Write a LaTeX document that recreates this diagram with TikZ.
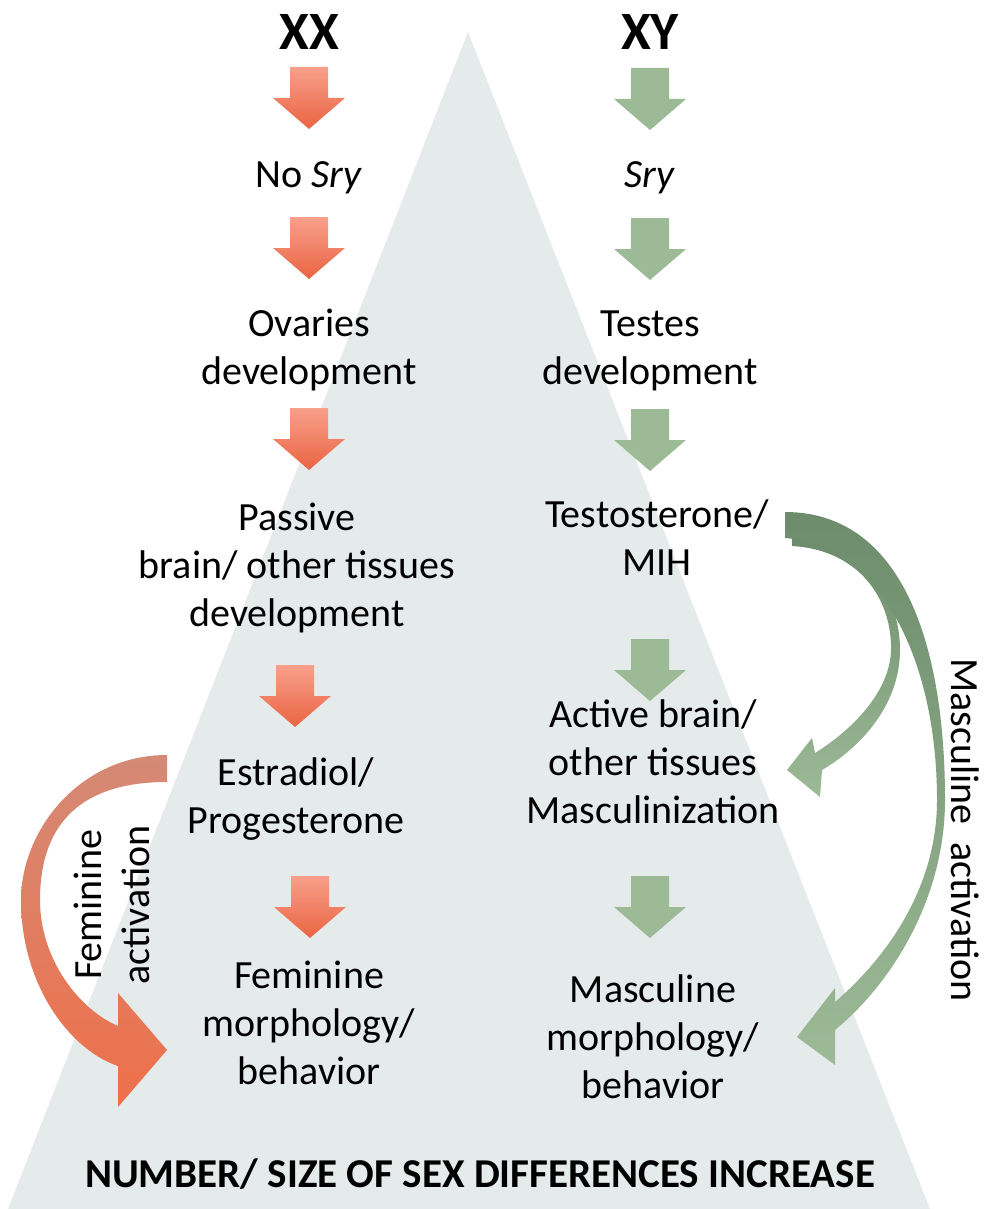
\documentclass[tikz,border=0pt]{standalone}
\usepackage{fontspec}
\setmainfont{Carlito}
\usetikzlibrary{positioning}

\definecolor{tribg}{RGB}{229,234,235}
\definecolor{redtop}{RGB}{248,160,138}
\definecolor{redbot}{RGB}{234,100,66}
\definecolor{grnfill}{RGB}{157,186,151}
\definecolor{grndark}{RGB}{108,140,107}
\definecolor{femtail}{RGB}{212,138,118}
\definecolor{femhead}{RGB}{238,112,74}

\tikzset{
  lbl/.style={align=center, inner sep=0pt, font=\fontsize{40}{48}\selectfont},
  hdr/.style={inner sep=0pt, font=\fontsize{54}{60}\selectfont\bfseries},
  redblk/.style={top color=redtop, bottom color=redbot},
  grnblk/.style={fill=grnfill},
  blockarrow/.pic={\path[#1] (-19,-31) -- (19,-31) -- (19,0) -- (36,0) -- (0,31) -- (-36,0) -- (-19,0) -- cycle;}
}

\begin{document}
\begin{tikzpicture}[x=1pt,y=-1pt]
\useasboundingbox (0,0) rectangle (1003,1209);
% pyramid in the back
\fill[tribg] (468,32) -- (930,1209) -- (8,1209) -- cycle;
% straight arrows
\foreach \x/\y in {309/98,309/248,309/439,295/696,310/907}
  \pic at (\x,\y) {blockarrow=redblk};
\foreach \y in {99,249,440,670,907}
  \pic at (650,\y) {blockarrow=grnblk};
% feminine activation arrow
\path[top color=femtail, bottom color=femhead]
  (167,755) .. controls (80,755) and (21,830) .. (21,900)
  .. controls (21,985) and (70,1050) .. (118,1066)
  -- (118,1107) -- (167,1050) -- (118,993) -- (118,1026)
  .. controls (80,1010) and (40,960) .. (40,900)
  .. controls (40,820) and (85,782) .. (167,782) -- cycle;
% masculine activation arrows
\path[top color=grndark, bottom color=grnfill]
  (792,538) .. controls (870,540) and (900,600) .. (900,650)
  .. controls (900,705) and (860,748) .. (822,770)
  -- (820,797) -- (787,770) -- (812,738) -- (815,753)
  .. controls (855,728) and (890,690) .. (891,650)
  .. controls (892,600) and (860,550) .. (792,546) -- cycle;
\path[top color=grndark, bottom color=grnfill]
  (785,512) .. controls (900,512) and (945,640) .. (945,800)
  .. controls (945,900) and (890,985) .. (835,1030)
  -- (835,1065) -- (797,1037) -- (835,988) -- (835,1002)
  .. controls (895,950) and (937,880) .. (937,800)
  .. controls (937,660) and (880,545) .. (785,538) -- cycle;
% XX column (base = last line)
\node[hdr, anchor=base] (xx) at (309,50) {XX};
\node[lbl, anchor=base] (nosry) at (309,187) {No \textit{Sry}};
\node[lbl, anchor=base] (ovaries) at (309,384) {Ovaries\\development};
\node[lbl, anchor=base] (passive) at (297,626) {Passive\\brain/ other tissues\\development};
\node[lbl, anchor=base] (estra) at (296,833) {Estradiol/\\Progesterone};
\node[lbl, anchor=base] (femmorph) at (309,1084) {Feminine\\morphology/\\behavior};
% XY column
\node[hdr, anchor=base] (xy) at (650,50) {XY};
\node[lbl, anchor=base] (sry) at (650,187) {\textit{Sry}};
\node[lbl, anchor=base] (testes) at (650,384) {Testes\\development};
\node[lbl, anchor=base] (testo) at (657,575) {Testosterone/\\MIH};
\node[lbl, anchor=base] (active) at (653,823) {Active brain/\\other tissues\\Masculinization};
\node[lbl, anchor=base] (mascmorph) at (653,1098) {Masculine\\morphology/\\behavior};
% side labels
\node[lbl, rotate=90] (femact) at (112,905) {Feminine\\activation};
\node[lbl, rotate=-90] (mascact) at (965,830) {Masculine\ \ activation};
% bottom line
\node[lbl, font=\fontsize{41}{48}\selectfont\bfseries, anchor=base] (total) at (480,1187) {NUMBER/ SIZE OF SEX DIFFERENCES INCREASE};
\end{tikzpicture}
\end{document}
